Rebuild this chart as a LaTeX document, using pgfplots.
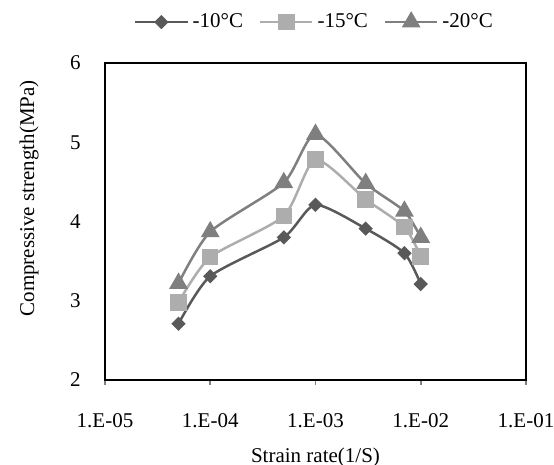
\documentclass[border=0pt]{standalone}
\usepackage{fontspec}
\setmainfont{Liberation Serif}
\usepackage{pgfplots}
\pgfplotsset{compat=1.18}
\definecolor{cA}{HTML}{595959}
\definecolor{cB}{HTML}{ADADAD}
\definecolor{cC}{HTML}{7F7F7F}

\begin{document}
\fontsize{10.5}{12}\selectfont
\begin{tikzpicture}
\begin{axis}[
    scale only axis,
    width=210.5pt, height=158.5pt,
    xmode=log,
    xmin=1e-5, xmax=1e-1,
    ymin=2, ymax=6,
    xtick={1e-5,1e-4,1e-3,1e-2,1e-1},
    xticklabels={1.E-05,1.E-04,1.E-03,1.E-02,1.E-01},
    ytick={2,3,4,5,6},
    xminorticks=false,
    /pgf/number format/assume math mode=true,
    tick label style={font=\rmfamily\fontsize{10.5}{12}\selectfont},
    label style={font=\rmfamily\fontsize{10.5}{12}\selectfont},
    axis line style={black, line width=0.7pt},
    xtick pos=bottom,
    tick align=outside,
    major tick length=2.5pt,
    xtick style={draw=gray, line width=0.8pt},
    ytick style={draw=none},
    yticklabel style={xshift=-6pt},
    xticklabel style={yshift=-10.5pt},
    xlabel={Strain rate(1/S)},
    ylabel={Compressive strength(MPa)},
    xlabel style={yshift=-3pt},
    ylabel style={at={(ticklabel cs:0.573)}, yshift=8.5pt},
    legend columns=3,
    legend style={draw=none, at={(0.5,1)}, anchor=south, yshift=12pt,
        font=\rmfamily\fontsize{10.5}{12}\selectfont,
        /tikz/every even column/.append style={column sep=6pt}},
    legend image code/.code={\draw[mark repeat=2, mark phase=2]
        plot coordinates {(0pt,0pt) (13pt,0pt) (26pt,0pt)};},
    every axis plot/.append style={line width=1.25pt, smooth, tension=0.4},
]
\addplot[color=cA, mark=square*, mark size=1.9pt, mark options={rotate=45, solid}] coordinates {
    (5e-5,2.71) (1e-4,3.31) (5e-4,3.80) (1e-3,4.21) (3e-3,3.91) (7e-3,3.60) (1e-2,3.21)
};
\addlegendentry{-10°C}
\addplot[color=cB, mark=square*, mark size=3.5pt, mark options={solid}] coordinates {
    (5e-5,2.98) (1e-4,3.55) (5e-4,4.07) (1e-3,4.78) (3e-3,4.28) (7e-3,3.93) (1e-2,3.56)
};
\addlegendentry{-15°C}
\addplot[color=cC, mark=triangle*, mark size=4.2pt, mark options={solid}] coordinates {
    (5e-5,3.22) (1e-4,3.87) (5e-4,4.49) (1e-3,5.10) (3e-3,4.48) (7e-3,4.13) (1e-2,3.80)
};
\addlegendentry{-20°C}
\coordinate (ll) at (rel axis cs:0,0);
\coordinate (ur) at (rel axis cs:1,1);
\end{axis}
% fix the page to the reference margins round the plot box
\pgfresetboundingbox
\path ([shift={(-52.5pt,-42.5pt)}]ll) rectangle ([shift={(14pt,31.5pt)}]ur);
\end{tikzpicture}
\end{document}
